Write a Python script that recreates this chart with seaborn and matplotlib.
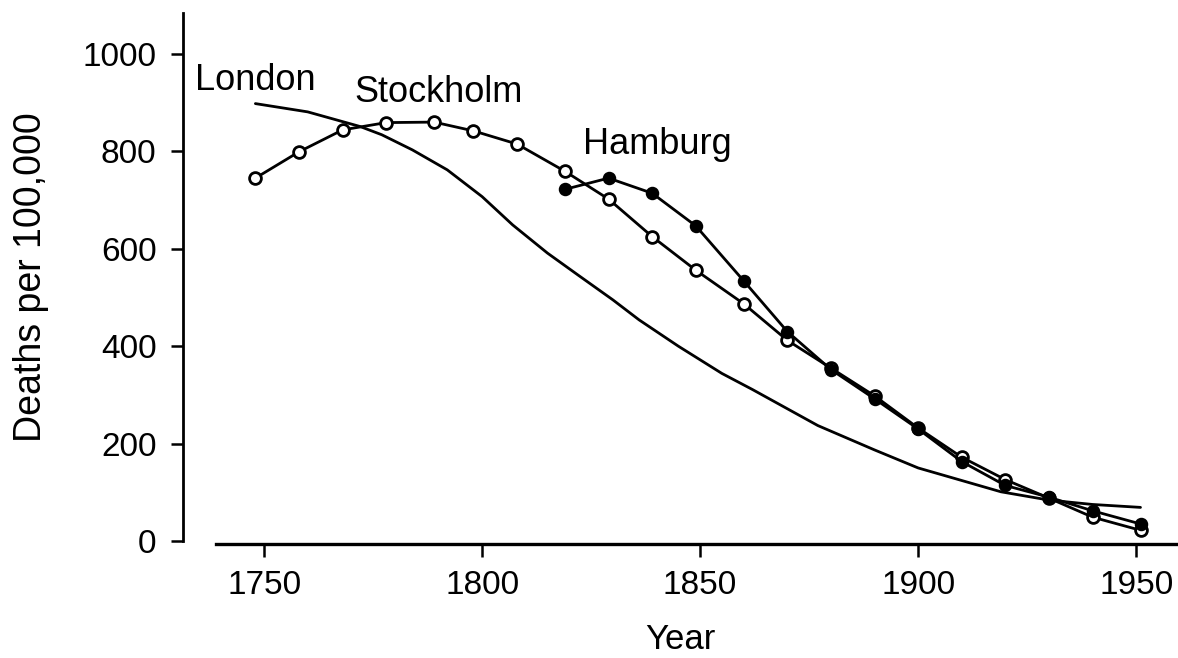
import matplotlib
matplotlib.use("Agg")
import matplotlib.pyplot as plt
import seaborn as sns

# values
london_years = [1748, 1760, 1772, 1777, 1784, 1792, 1800, 1807, 1815, 1822, 1830, 1836, 1845, 1855, 1862, 1877, 1890, 1900, 1919, 1930, 1940, 1951]
london_deaths = [898, 881, 851, 834, 803, 762, 707, 649, 591, 546, 495, 454, 400, 344, 311, 237, 187, 150, 101, 84, 75, 69]

stockholm_years = [1748, 1758, 1768, 1778, 1789, 1798, 1808, 1819, 1829, 1839, 1849, 1860, 1870, 1880, 1890, 1900, 1910, 1920, 1930, 1940, 1951]
stockholm_deaths = [745, 799, 844, 859, 860, 842, 815, 759, 702, 625, 556, 487, 412, 355, 298, 232, 172, 126, 88, 49, 22]

hamburg_years = [1819, 1829, 1839, 1849, 1860, 1870, 1880, 1890, 1900, 1910, 1920, 1930, 1940, 1951]
hamburg_deaths = [722, 745, 714, 647, 534, 430, 352, 292, 230, 163, 114, 90, 62, 35]

x_ticks = [1750, 1800, 1850, 1900, 1950]
y_ticks = [0, 200, 400, 600, 800, 1000]

sns.set_style("ticks", {"axes.edgecolor": "black", "text.color": "black",
                        "axes.labelcolor": "black", "xtick.color": "black",
                        "ytick.color": "black"})
plt.rcParams['font.family'] = ['Liberation Sans', 'DejaVu Sans']

fig = plt.figure(figsize=(11.78, 6.58), dpi=100)
ax = fig.add_axes([183 / 1178, 1 - 541 / 658, 1 - 183 / 1178, 528 / 658])

lw = 2.0
sns.lineplot(x=london_years, y=london_deaths, ax=ax, color="black", linewidth=lw)
sns.lineplot(x=stockholm_years, y=stockholm_deaths, ax=ax, color="black", linewidth=lw,
             marker="o", markersize=8.5, markerfacecolor="white",
             markeredgecolor="black", markeredgewidth=2, clip_on=False)
sns.lineplot(x=hamburg_years, y=hamburg_deaths, ax=ax, color="black", linewidth=lw,
             marker="o", markersize=8.5, markerfacecolor="black",
             markeredgecolor="black", markeredgewidth=1.2, clip_on=False)

ax.set_xlim(1731.4, 1959.6)
ax.set_ylim(0, 1084)
ax.set_xticks(x_ticks)
ax.set_yticks(y_ticks)
ax.tick_params(axis="both", direction="out", length=9, width=1.8, labelsize=24, pad=10)

sns.despine(ax=ax)
ax.spines["left"].set_linewidth(2)
ax.spines["bottom"].set_linewidth(2.4)
ax.spines["bottom"].set_bounds(1739, 1959.6)
ax.spines["bottom"].set_position(("outward", 2))

ax.set_xlabel("Year", fontsize=25, labelpad=16)
ax.set_ylabel("Deaths per 100,000", fontsize=27, labelpad=24)

ax.text(1747.9, 945, "London", fontsize=26, ha="center", va="center")
ax.text(1790.1, 920, "Stockholm", fontsize=26, ha="center", va="center")
ax.text(1840.1, 813, "Hamburg", fontsize=26, ha="center", va="center")

fig.savefig("out.png", dpi=100)
